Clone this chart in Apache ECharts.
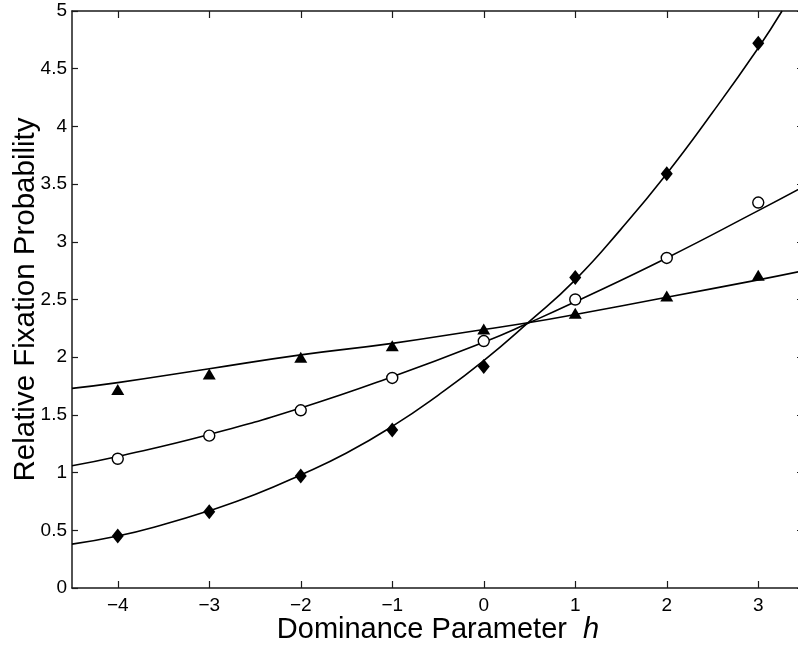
<!DOCTYPE html>
<html>
<head>
<meta charset="utf-8">
<script src="https://cdn.jsdelivr.net/npm/echarts@6/dist/echarts.min.js"></script>
<style>
html,body{margin:0;padding:0;background:#fff;}
#chart{width:798px;height:648px;}
</style>
</head>
<body>
<div id="chart"></div>
<script>
// Data points
const hValues = [-4, -3, -2, -1, 0, 1, 2, 3];
const diamondValues = [0.45, 0.66, 0.97, 1.37, 1.92, 2.69, 3.59, 4.72];
const circleValues = [1.12, 1.32, 1.54, 1.82, 2.14, 2.50, 2.86, 3.34];
const triangleValues = [1.72, 1.855, 2.00, 2.10, 2.245, 2.38, 2.53, 2.71];

// Fitted curves
const diamondCurveH = [-4.5, -4, -3.5, -3, -2.5, -2, -1.5, -1, -0.5, 0, 0.5, 1, 1.5, 2, 2.5, 3, 3.26];
const diamondCurveV = [0.38, 0.45, 0.55, 0.67, 0.81, 0.98, 1.17, 1.40, 1.67, 1.97, 2.31, 2.67, 3.11, 3.59, 4.12, 4.68, 5.0];
const circleCurveH = [-4.5, -4, -3, -2, -1, 0, 0.5, 1, 2, 3, 3.5];
const circleCurveV = [1.06, 1.14, 1.33, 1.56, 1.83, 2.13, 2.30, 2.48, 2.86, 3.27, 3.48];
const triangleCurveH = [-4.5, -4, -3, -2, -1, 0, 0.5, 1, 2, 3, 3.5];
const triangleCurveV = [1.73, 1.78, 1.90, 2.02, 2.12, 2.24, 2.30, 2.37, 2.52, 2.67, 2.75];

// Axis ticks
const xTicks = [-4, -3, -2, -1, 0, 1, 2, 3];
const xTitle = 'Dominance Parameter  ';
const xTitleItalic = 'h';
const yTitle = 'Relative Fixation Probability';

function zip(a, b) { return a.map((v, i) => [v, b[i]]); }

const FONT = '"Liberation Sans", Arial, Helvetica, sans-serif';
const AX = '#1a1a1a';

const chart = echarts.init(document.getElementById('chart'), null, {renderer: 'canvas'});
const option = {
  backgroundColor: '#fff',
  animation: false,
  grid: {left: 72, right: -6, top: 11, bottom: 60, containLabel: false, outerBoundsMode: 'none'},
  xAxis: [{
    type: 'value', min: -4.5, max: 3.5, position: 'bottom',
    axisLine: {show: true, onZero: false, lineStyle: {color: AX, width: 1.5}},
    axisTick: {show: true, inside: true, length: 7, customValues: xTicks, lineStyle: {color: AX, width: 1.2}},
    axisLabel: {show: true, customValues: xTicks, margin: 8, color: '#000', fontFamily: FONT, fontSize: 19,
      formatter: v => (v < 0 ? '\u2212' + Math.abs(v) : String(v))},
    splitLine: {show: false},
    name: xTitle + '{i|' + xTitleItalic + '}', nameLocation: 'middle', nameGap: 27, nameMoveOverlap: false,
    nameTextStyle: {color: '#000', fontFamily: FONT, fontSize: 29,
      rich: {i: {fontStyle: 'italic', fontFamily: FONT, fontSize: 29, color: '#000'}}}
  }, {
    type: 'value', min: -4.5, max: 3.5, position: 'top',
    axisLine: {show: true, onZero: false, lineStyle: {color: AX, width: 1.5}},
    axisTick: {show: true, inside: true, length: 7, customValues: xTicks, lineStyle: {color: AX, width: 1.2}},
    axisLabel: {show: false},
    splitLine: {show: false}
  }],
  yAxis: [{
    type: 'value', min: 0, max: 5, interval: 0.5, position: 'left',
    axisLine: {show: true, onZero: false, lineStyle: {color: AX, width: 1.5}},
    axisTick: {show: true, inside: true, length: 6, lineStyle: {color: AX, width: 1.2}},
    axisLabel: {show: true, margin: 5, color: '#000', fontFamily: FONT, fontSize: 19},
    splitLine: {show: false},
    name: yTitle, nameLocation: 'middle', nameGap: 31, nameMoveOverlap: false,
    nameTextStyle: {color: '#000', fontFamily: FONT, fontSize: 29.5}
  }, {
    type: 'value', min: 0, max: 5, interval: 0.5, position: 'right',
    axisLine: {show: true, onZero: false, lineStyle: {color: AX, width: 1.5}},
    axisTick: {show: true, inside: true, length: 7, lineStyle: {color: AX, width: 1.2}},
    axisLabel: {show: false},
    splitLine: {show: false}
  }],
  series: [
    {type: 'line', data: zip(diamondCurveH, diamondCurveV), smooth: true, showSymbol: false, symbol: 'none',
      lineStyle: {color: '#000', width: 1.6}, z: 2, clip: true},
    {type: 'line', data: zip(circleCurveH, circleCurveV), smooth: true, showSymbol: false, symbol: 'none',
      lineStyle: {color: '#000', width: 1.6}, z: 2, clip: true},
    {type: 'line', data: zip(triangleCurveH, triangleCurveV), smooth: true, showSymbol: false, symbol: 'none',
      lineStyle: {color: '#000', width: 1.6}, z: 2, clip: true},
    {type: 'scatter', data: zip(hValues, diamondValues), symbol: 'diamond', symbolSize: [12, 15],
      itemStyle: {color: '#000', opacity: 1}, z: 3},
    {type: 'scatter', data: zip(hValues, circleValues), symbol: 'circle', symbolSize: 11,
      itemStyle: {color: '#fff', borderColor: '#000', borderWidth: 1.4, opacity: 1}, z: 3},
    {type: 'scatter', data: zip(hValues, triangleValues), symbol: 'triangle', symbolSize: [13, 11],
      itemStyle: {color: '#000', opacity: 1}, z: 3}
  ]
};
chart.setOption(option);
</script>
</body>
</html>
